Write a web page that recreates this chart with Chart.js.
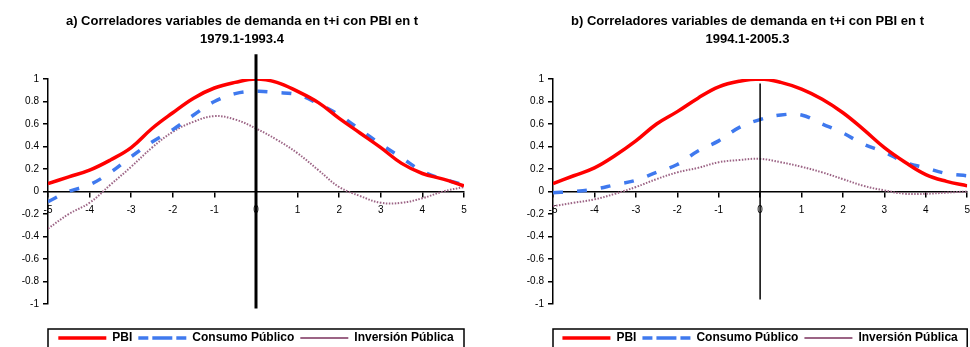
<!DOCTYPE html>
<html>
<head>
<meta charset="utf-8">
<script src="https://cdn.jsdelivr.net/npm/chart.js@4.4.1/dist/chart.umd.min.js"></script>
<style>
    html, body { margin: 0; background: #fff; overflow: hidden; }
    .panel { position: absolute; top: 0; height: 347px; overflow: hidden; }
    #panelA { left: 0; width: 485px; }
    #panelB { left: 485px; width: 485px; }
</style>
</head>
<body>
<div class="panel" id="panelA"><canvas id="graficoA" width="485" height="354"></canvas></div>
<div class="panel" id="panelB"><canvas id="graficoB" width="493" height="354"></canvas></div>
<script>
// rezagos / adelantos i
const lags = [-5, -4.5, -4, -3.5, -3, -2.5, -2, -1.5, -1, -0.5, 0, 0.5, 1, 1.5, 2, 2.5, 3, 3.5, 4, 4.5, 5];
const xTicks = [-5, -4, -3, -2, -1, 0, 1, 2, 3, 4, 5];
const yTicks = [-1, -0.8, -0.6, -0.4, -0.2, 0, 0.2, 0.4, 0.6, 0.8, 1];

// a) 1979.1-1993.4
const pbiA = [0.07, 0.13, 0.19, 0.28, 0.39, 0.56, 0.70, 0.83, 0.92, 0.97, 1.00, 0.97, 0.89, 0.79, 0.65, 0.52, 0.39, 0.25, 0.16, 0.11, 0.05];
const consumoA = [-0.09, 0.00, 0.06, 0.17, 0.31, 0.44, 0.55, 0.68, 0.80, 0.87, 0.89, 0.88, 0.86, 0.78, 0.68, 0.55, 0.42, 0.30, 0.18, 0.11, 0.06];
const inversionA = [-0.33, -0.20, -0.10, 0.06, 0.22, 0.39, 0.53, 0.62, 0.67, 0.64, 0.56, 0.46, 0.34, 0.19, 0.04, -0.04, -0.10, -0.10, -0.06, 0.00, 0.04];

// b) 1994.1-2005.3
const pbiB = [0.07, 0.14, 0.21, 0.32, 0.45, 0.60, 0.71, 0.83, 0.93, 0.98, 1.00, 0.97, 0.91, 0.82, 0.70, 0.55, 0.39, 0.26, 0.15, 0.09, 0.05];
const consumoB = [-0.01, 0.00, 0.02, 0.06, 0.10, 0.17, 0.24, 0.36, 0.45, 0.57, 0.64, 0.68, 0.68, 0.60, 0.52, 0.42, 0.35, 0.26, 0.21, 0.16, 0.14];
const inversionB = [-0.13, -0.10, -0.07, -0.02, 0.04, 0.11, 0.17, 0.21, 0.26, 0.28, 0.29, 0.26, 0.22, 0.17, 0.11, 0.05, 0.01, -0.02, -0.02, -0.01, 0.00];

const FONT = "'Liberation Sans', Arial, sans-serif";

function puntos(valores) {
    return lags.map((l, i) => ({ x: l, y: valores[i] }));
}

// linea vertical en i = 0
const lineaCero = {
    id: 'lineaCero',
    afterDraw(chart, args, opts) {
        const ctx = chart.ctx;
        const x = chart.scales.x.getPixelForValue(0);
        ctx.save();
        ctx.strokeStyle = '#000';
        ctx.lineWidth = opts.width;
        ctx.beginPath();
        ctx.moveTo(x, chart.scales.y.getPixelForValue(opts.top));
        ctx.lineTo(x, chart.scales.y.getPixelForValue(opts.bottom));
        ctx.stroke();
        ctx.restore();
    }
};

// leyenda centrada bajo el area del grafico, con recuadro
const marcoLeyenda = {
    id: 'marcoLeyenda',
    afterLayout(chart) {
        const area = chart.chartArea;
        chart.legend.left = area.left;
        chart.legend.right = area.right;
        chart.legend.width = area.right - area.left;
    },
    afterDraw(chart) {
        const ctx = chart.ctx;
        const area = chart.chartArea;
        const hb = chart.legend.legendHitBoxes[0];
        ctx.save();
        ctx.strokeStyle = '#000';
        ctx.lineWidth = 1.5;
        ctx.strokeRect(area.left, hb.top - 3, area.right - area.left, 40);
        ctx.restore();
    }
};

function crearGrafico(id, titulo, pbi, consumo, inversion, cfg) {
    const ctx = document.getElementById(id).getContext('2d');
    return new Chart(ctx, {
        type: 'line',
        data: {
            datasets: [
                {
                    label: 'PBI',
                    data: puntos(pbi),
                    borderColor: '#ff0000',
                    backgroundColor: '#ff0000',
                    borderWidth: 3.5,
                    pointRadius: 0,
                    tension: 0.4
                },
                {
                    label: 'Consumo Público',
                    data: puntos(consumo),
                    borderColor: '#3f79ee',
                    backgroundColor: '#3f79ee',
                    borderWidth: 3.5,
                    borderDash: [10, 14],
                    pointRadius: 0,
                    tension: 0.4
                },
                {
                    label: 'Inversión Pública',
                    data: puntos(inversion),
                    borderColor: '#9c6485',
                    backgroundColor: '#9c6485',
                    borderWidth: 2,
                    borderDash: [1.5, 1.5],
                    pointRadius: 0,
                    tension: 0.4
                }
            ]
        },
        options: {
            responsive: false,
            animation: false,
            layout: {
                padding: { left: cfg.padLeft, right: cfg.padRight, top: 0, bottom: 0 }
            },
            plugins: {
                title: {
                    display: true,
                    text: titulo,
                    color: '#000',
                    font: { family: FONT, size: 13, weight: 'bold', lineHeight: 1.385 },
                    padding: { top: 12, bottom: 31 }
                },
                legend: {
                    position: 'bottom',
                    title: {
                        display: true,
                        text: '',
                        font: { size: 10, lineHeight: 1.2 },
                        padding: { top: 0, bottom: 10 }
                    },
                    labels: {
                        color: '#000',
                        font: { family: FONT, size: 12, weight: 'bold' },
                        boxWidth: 48,
                        boxHeight: 0,
                        padding: 6
                    }
                },
                tooltip: { enabled: false },
                lineaCero: cfg.linea
            },
            scales: {
                x: {
                    type: 'linear',
                    position: { y: 0 },
                    min: -5,
                    max: 5,
                    afterBuildTicks: (scale) => { scale.ticks = xTicks.map(v => ({ value: v })); },
                    border: { color: '#000', width: 1.5 },
                    grid: { drawOnChartArea: false, color: '#000', lineWidth: 1.5, tickLength: 5 },
                    ticks: { color: '#000', font: { family: FONT, size: 10 }, padding: 8, maxRotation: 0 }
                },
                y: {
                    min: -1,
                    max: 1,
                    afterBuildTicks: (scale) => { scale.ticks = yTicks.map(v => ({ value: v })); },
                    afterFit: (scale) => { scale.width = cfg.ejeY; },
                    border: { color: '#000', width: 1.5 },
                    grid: { drawOnChartArea: false, color: '#000', lineWidth: 1.5, tickLength: 5 },
                    ticks: {
                        color: '#000',
                        font: { family: FONT, size: 10 },
                        padding: 4,
                        callback: (v) => String(Math.round(v * 10) / 10)
                    }
                }
            }
        },
        plugins: [lineaCero, marcoLeyenda]
    });
}

crearGrafico('graficoA',
    ['a) Correladores variables de demanda en t+i con PBI en t', '1979.1-1993.4'],
    pbiA, consumoA, inversionA,
    { padLeft: 20, padRight: 21, ejeY: 28, linea: { width: 3, top: 1.22, bottom: -1.04 } });

crearGrafico('graficoB',
    ['b) Correladores variables de demanda en t+i con PBI en t', '1994.1-2005.3'],
    pbiB, consumoB, inversionB,
    { padLeft: 32, padRight: 0, ejeY: 36, linea: { width: 1.5, top: 0.96, bottom: -0.96 } });
</script>
</body>
</html>
